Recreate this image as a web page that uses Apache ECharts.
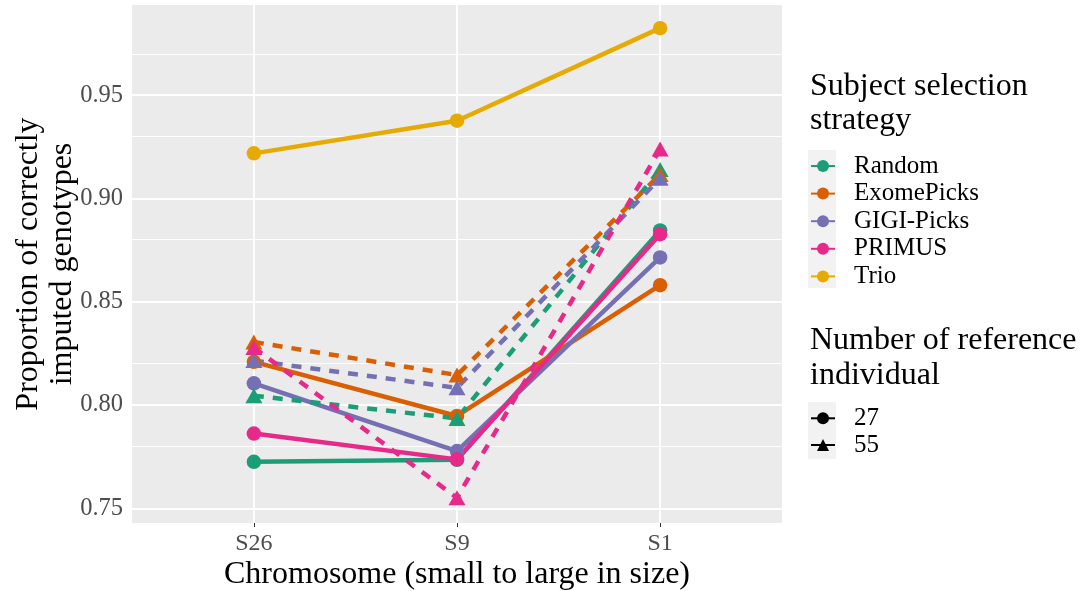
<!DOCTYPE html>
<html>
<head>
<meta charset="utf-8">
<script src="https://cdn.jsdelivr.net/npm/echarts@6/dist/echarts.min.js"></script>
<style>
  html, body { margin: 0; padding: 0; background: #fff; }
  #chart { width: 1083px; height: 591px; }
</style>
</head>
<body>
<div id="chart"></div>
<script>
// Chromosomes, ordered small to large
const categories = ['S26', 'S9', 'S1'];
const strategies = ['Random', 'ExomePicks', 'GIGI-Picks', 'PRIMUS', 'Trio'];
const refSizes = ['27', '55'];
const yTicks = [0.75, 0.80, 0.85, 0.90, 0.95];
const yMinorTicks = [0.775, 0.825, 0.875, 0.925, 0.975];

// Proportion of correctly imputed genotypes per chromosome
const random27 = [0.7725, 0.7735, 0.8845];
const random55 = [0.8045, 0.7935, 0.9140];
const exome27 = [0.8209, 0.7947, 0.8580];
const exome55 = [0.8305, 0.8145, 0.9116];
const gigi27 = [0.8105, 0.7777, 0.8714];
const gigi55 = [0.8215, 0.8083, 0.9097];
const primus27 = [0.7862, 0.7737, 0.8827];
const primus55 = [0.8278, 0.7551, 0.9239];
const trio27 = [0.9218, 0.9376, 0.9824];

const colors = {
  'Random': '#1B9E77',
  'ExomePicks': '#D95F02',
  'GIGI-Picks': '#7570B3',
  'PRIMUS': '#E7298A',
  'Trio': '#E6AB02'
};

const groups = [
  { strategy: 'Random', size: '27', values: random27 },
  { strategy: 'ExomePicks', size: '27', values: exome27 },
  { strategy: 'GIGI-Picks', size: '27', values: gigi27 },
  { strategy: 'PRIMUS', size: '27', values: primus27 },
  { strategy: 'Trio', size: '27', values: trio27 },
  { strategy: 'Random', size: '55', values: random55 },
  { strategy: 'ExomePicks', size: '55', values: exome55 },
  { strategy: 'GIGI-Picks', size: '55', values: gigi55 },
  { strategy: 'PRIMUS', size: '55', values: primus55 }
];

const SERIF = 'Liberation Serif, Times New Roman, serif';
const DASH = [10, 9];
const LINE_W = 4.5;

function symbolFor(size) { return size === '55' ? 'triangle' : 'circle'; }
function symbolSizeFor(size) { return size === '55' ? [17, 15] : 14.5; }

const series = [];

// Panel grid lines (white, major and minor)
const gridLines = [];
yTicks.forEach(v => gridLines.push({ yAxis: v, lineStyle: { color: '#fff', width: 1.8, type: 'solid' } }));
yMinorTicks.forEach(v => gridLines.push({ yAxis: v, lineStyle: { color: '#fff', width: 1, type: 'solid' } }));
categories.forEach((c, i) => gridLines.push({ xAxis: i, lineStyle: { color: '#fff', width: 1.8, type: 'solid' } }));
series.push({
  name: 'grid',
  type: 'line',
  data: [],
  z: 1,
  silent: true,
  markLine: {
    z: 1,
    silent: true,
    symbol: ['none', 'none'],
    label: { show: false },
    animation: false,
    data: gridLines
  }
});

// Connecting lines first, markers above all lines
groups.forEach(g => {
  series.push({
    name: g.strategy + ' / ' + g.size,
    type: 'line',
    z: 2,
    showSymbol: false,
    silent: true,
    data: g.values.map((v, i) => [i, v]),
    lineStyle: {
      color: colors[g.strategy],
      width: LINE_W,
      type: g.size === '55' ? DASH : 'solid',
      cap: 'butt'
    }
  });
});
groups.forEach(g => {
  series.push({
    name: g.strategy + ' / ' + g.size + ' points',
    type: 'scatter',
    z: 3,
    silent: true,
    symbol: symbolFor(g.size),
    symbolSize: symbolSizeFor(g.size),
    itemStyle: { color: colors[g.strategy], opacity: 1 },
    data: g.values.map((v, i) => [i, v])
  });
});

// Legend keys
strategies.forEach(s => {
  series.push({
    name: s, type: 'line', data: [], symbol: 'circle', symbolSize: 12,
    itemStyle: { color: colors[s] }, lineStyle: { color: colors[s], width: LINE_W }
  });
});
refSizes.forEach(s => {
  series.push({
    name: s, type: 'line', data: [], symbol: symbolFor(s), symbolSize: 12,
    itemStyle: { color: '#000' }, lineStyle: { color: '#000', width: LINE_W }
  });
});

const legendText = { fontFamily: SERIF, fontSize: 25, color: '#000', lineHeight: 25, padding: [0, 0, 0, 14] };

const option = {
  animation: false,
  backgroundColor: '#fff',
  grid: {
    left: 132, top: 5, width: 650, height: 518,
    show: true, backgroundColor: '#EBEBEB', borderWidth: 0
  },
  xAxis: {
    type: 'value',
    min: -0.6,
    max: 2.6,
    axisLine: { show: false },
    splitLine: { show: false },
    axisTick: { show: true, customValues: [0, 1, 2], length: 4, lineStyle: { color: '#333', width: 1 } },
    axisLabel: {
      customValues: [0, 1, 2],
      formatter: v => categories[Math.round(v)],
      fontFamily: SERIF, fontSize: 24, color: '#4D4D4D', margin: 9
    }
  },
  yAxis: {
    type: 'value',
    min: 0.7429,
    max: 0.9936,
    axisLine: { show: false },
    splitLine: { show: false },
    axisTick: { show: true, customValues: yTicks, length: 4, lineStyle: { color: '#333', width: 1 } },
    axisLabel: {
      customValues: yTicks,
      formatter: v => v.toFixed(2),
      fontFamily: SERIF, fontSize: 24.5, color: '#4D4D4D', margin: 9
    }
  },
  legend: [
    {
      data: strategies, orient: 'vertical', left: 810, top: 153.5, padding: 0,
      itemWidth: 24, itemHeight: 15, itemGap: 2.6, selectedMode: false,
      textStyle: legendText
    },
    {
      data: refSizes, orient: 'vertical', left: 810, top: 405.8, padding: 0,
      itemWidth: 24, itemHeight: 15, itemGap: 1.7, selectedMode: false,
      textStyle: legendText
    }
  ],
  graphic: [
    { type: 'rect', z: 0, shape: { x: 808, y: 150, width: 28, height: 138 }, style: { fill: '#F2F2F2' } },
    { type: 'rect', z: 0, shape: { x: 808, y: 402, width: 28, height: 57 }, style: { fill: '#F2F2F2' } },
    {
      type: 'text', left: 810, top: 70,
      style: { text: 'Subject selection\nstrategy', font: '32px ' + SERIF, fill: '#000', lineHeight: 34 }
    },
    {
      type: 'text', left: 810, top: 323,
      style: { text: 'Number of reference\nindividual', font: '32px ' + SERIF, fill: '#000', lineHeight: 35 }
    },
    {
      type: 'text', x: 457, y: 575,
      style: { text: 'Chromosome (small to large in size)', font: '32px ' + SERIF, fill: '#000', align: 'center', verticalAlign: 'middle' }
    },
    {
      type: 'text', x: 46, y: 264, rotation: Math.PI / 2,
      style: { text: 'Proportion of correctly\nimputed genotypes', font: '32px ' + SERIF, fill: '#000', align: 'center', verticalAlign: 'middle', lineHeight: 34 }
    }
  ],
  series: series
};

const chart = echarts.init(document.getElementById('chart'), null, { renderer: 'canvas' });
chart.setOption(option);
</script>
</body>
</html>
